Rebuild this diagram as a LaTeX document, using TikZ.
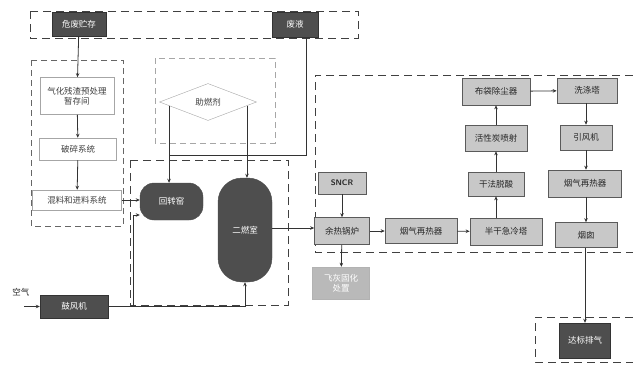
\documentclass[tikz,border=0pt]{standalone}
\usepackage{fontspec}
\newfontfamily\cjk{Noto Sans CJK SC}
\usetikzlibrary{shapes.geometric,arrows.meta,calc}
\definecolor{darkfill}{RGB}{78,78,78}
\definecolor{midfill}{RGB}{200,200,200}
\definecolor{lightfill}{RGB}{185,185,185}
\definecolor{edge}{RGB}{90,90,90}
\tikzset{
  every node/.style={font=\cjk\fontsize{8.5}{10}\selectfont, inner sep=1pt, align=center},
  darkbox/.style={rectangle, draw=black!80, fill=darkfill, text=white},
  graybox/.style={rectangle, draw=edge, fill=midfill, text=black!85, line width=0.6pt},
  lightbox/.style={rectangle, draw=black!30, fill=lightfill, text=white},
  whitebox/.style={rectangle, draw=gray!70, fill=white, text=gray!50!black, line width=0.5pt},
  region/.style={draw=black!75, line width=1pt, dash pattern=on 8pt off 5pt},
  thinregion/.style={draw=gray!70, line width=0.6pt, dash pattern=on 6pt off 4pt},
  arr/.style={-{Stealth[length=4pt,width=3.5pt]}, line width=0.8pt, draw=black!80},
  ln/.style={line width=0.8pt, draw=black!80},
}
\begin{document}
\begin{tikzpicture}[x=1pt,y=-1pt]
\useasboundingbox (0,0) rectangle (633,365);
% dashed regions
\draw[region] (30,11) rectangle (358,38);
\draw[thinregion,line width=0.8pt,draw=black!60] (31,60) rectangle (123,226);
\draw[thinregion] (155,58) rectangle (275,143);
\draw[region] (130,160) rectangle (288,305);
\draw[region] (633,75) -- (315,75) -- (315,252) -- (633,252);
\draw[region] (633,317) -- (535,317) -- (535,362) -- (633,362);

% nodes
\node[darkbox, minimum width=54pt, minimum height=24pt] (haz) at (79,24.5) {危废贮存};
\node[darkbox, minimum width=46pt, minimum height=25pt] (liq) at (295,24.5) {废液};
\node[whitebox, minimum width=74pt, minimum height=37pt] (qh) at (77,96) {气化残渣预处理\\暂存间};
\node[whitebox, minimum width=77pt, minimum height=22pt] (ps) at (78,149) {破碎系统};
\node[whitebox, minimum width=89pt, minimum height=20pt] (hl) at (77,200) {混料和进料系统};
\node[diamond, draw=gray!70, fill=white, text=gray!50!black, minimum width=97pt, minimum height=37pt, inner sep=0pt, aspect=2.6] (dia) at (208,102) {助燃剂};
\node[rectangle, rounded corners=14pt, fill=darkfill, draw=black!70, text=white, minimum width=63pt, minimum height=37pt] (hzy) at (171.5,201.5) {回转窑};
\node[rectangle, rounded corners=24pt, fill=darkfill, draw=black!70, text=white, minimum width=54pt, minimum height=104pt] (ers) at (245,230) {二燃室};
\node[darkbox, minimum width=68pt, minimum height=23pt] (blw) at (74,306.5) {鼓风机};
\node[text=black!85] (air) at (21,292) {空气};
\coordinate (airin) at (24,306.5);

\node[graybox, minimum width=48pt, minimum height=22pt, font=\sffamily\bfseries\fontsize{8}{9}\selectfont] (sncr) at (342,183) {SNCR};
\node[graybox, minimum width=55pt, minimum height=27pt] (yr) at (342,231) {余热锅炉};
\node[lightbox, minimum width=57pt, minimum height=32pt] (fh) at (341,283) {飞灰固化\\处置};
\node[graybox, minimum width=72pt, minimum height=25pt] (yq1) at (421,231) {烟气再热器};
\node[graybox, minimum width=72pt, minimum height=27pt] (bg) at (506,231.5) {半干急冷塔};
\node[graybox, minimum width=56pt, minimum height=24pt] (gf) at (496,184) {干法脱酸};
\node[graybox, minimum width=62pt, minimum height=26pt] (hx) at (496,138) {活性炭喷射};
\node[graybox, minimum width=68pt, minimum height=27pt] (bd) at (496,91.5) {布袋除尘器};
\node[graybox, minimum width=60pt, minimum height=25pt] (xd) at (587,90.5) {洗涤塔};
\node[graybox, minimum width=52pt, minimum height=25pt] (yf) at (586,137.5) {引风机};
\node[graybox, minimum width=73pt, minimum height=27pt] (yq2) at (585,183.5) {烟气再热器};
\node[graybox, minimum width=62pt, minimum height=25pt] (yc) at (586,235) {烟囱};
\node[darkbox, minimum width=51pt, minimum height=35pt] (db) at (585,340.5) {达标排气};

% connectors: pretreatment chain
\draw[arr] (haz) -- (qh);
\draw[arr] (qh) -- (ps);
\draw[arr] (ps) -- (hl);
\draw[arr] (hl.east) -- (hl.east -| hzy.west);

% fuel / liquid feed
\coordinate (dl) at ($(dia.west)!0.2!(dia.south)$);
\coordinate (dr) at ($(dia.east)!0.2!(dia.south)$);
\coordinate (lq) at ($(liq.south)+(11,0)$);
\draw[ln] (lq) -- (lq |- 0,155) -- (dl |- 0,155);
\draw[arr] (dl) -- (dl |- hzy.north);
\draw[arr] (dr) -- (dr |- ers.north);

% air
\draw[arr] (airin) -- (blw.west);
\draw[arr] (blw.east) -| (ers.south);
\coordinate (br) at (133,306.5);
\coordinate (hzin) at ($(hzy.west)+(0,13.5)$);
\draw[ln] (br) -- (br |- hzin);
\draw[arr] (br |- hzin) -- (hzin);

% gas path
\draw[arr] (ers.east |- 0,228) -- (yr.west |- 0,228);
\draw[arr] (sncr) -- (yr);
\draw[arr] (yr) -- (fh);
\draw[arr] (yr) -- (yq1);
\draw[arr] (yq1) -- (bg);
\draw[arr] (bg.north -| gf) -- (gf.south);
\draw[arr] (gf) -- (hx);
\draw[arr] (hx) -- (bd);
\draw[arr] (bd) -- (xd);
\draw[arr] (xd.south -| yf) -- (yf.north);
\draw[arr] (yf) -- (yf |- yq2.north);
\draw[arr] (yq2.south -| yc) -- (yc.north);
\draw[arr] (yc.south -| db) -- (db.north);
\end{tikzpicture}
\end{document}
